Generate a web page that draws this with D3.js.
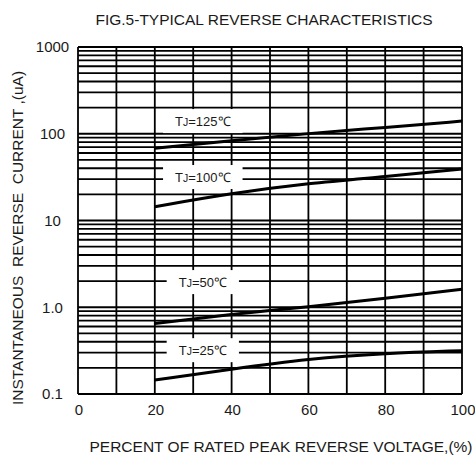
<html>

<head>
  <style>
    body {
      padding: 0px;
      margin: 0px;
      background-color: white;
    }

    svg text {
      font-family: "Liberation Sans", Arial, sans-serif;
      fill: #1a1a1a;
    }
  </style>
</head>

<body>
  <div id="chart"></div>
  <script src="https://cdnjs.cloudflare.com/ajax/libs/d3/7.8.5/d3.min.js"></script>
  <script>
    // values
    var voltagePct = [20, 40, 60, 80, 100];
    var ir125 = [68, 83, 101, 118, 140];
    var ir100 = [14.4, 20.6, 26.9, 32, 39.2];
    var ir50 = [0.65, 0.83, 1.01, 1.27, 1.61];
    var ir25 = [0.145, 0.194, 0.255, 0.295, 0.316];
    var curveNames = ["125", "100", "50", "25"];

    var xTicks = [0, 20, 40, 60, 80, 100];
    var yTicks = [0.1, 1, 10, 100, 1000];
    var yTickLabels = ["0.1", "1.0", "10", "100", "1000"];

    var svgWidth = 475,
      svgHeight = 455,
      plotLeft = 78,
      plotRight = 462,
      plotTop = 47,
      plotBottom = 394;

    var svg = d3.select('#chart').append('svg')
      .attr('width', svgWidth)
      .attr('height', svgHeight);

    var x = d3.scaleLinear().domain([0, 100]).range([plotLeft, plotRight]);
    var y = d3.scaleLog().domain([0.1, 1000]).range([plotBottom, plotTop]);

    // grid: every 10% across, every log minor step up
    var grid = svg.append('g')
      .attr('stroke', '#000')
      .attr('stroke-width', 1.8);

    var minor = [];
    [0.1, 1, 10, 100].forEach(function(dec) {
      for (var k = 1; k < 10; k++) minor.push(dec * k);
    });
    minor.push(1000);

    grid.selectAll('line.h')
      .data(minor)
      .enter()
      .append('line')
      .attr('x1', plotLeft)
      .attr('x2', plotRight)
      .attr('y1', function(d) { return y(d); })
      .attr('y2', function(d) { return y(d); });

    grid.selectAll('line.v')
      .data(d3.range(0, 101, 10))
      .enter()
      .append('line')
      .attr('y1', plotTop)
      .attr('y2', plotBottom)
      .attr('x1', function(d) { return x(d); })
      .attr('x2', function(d) { return x(d); });

    // curves
    var series = [ir125, ir100, ir50, ir25];
    var line = d3.line()
      .x(function(d, i) { return x(voltagePct[i]); })
      .y(function(d) { return y(d); })
      .curve(d3.curveBasis);

    svg.selectAll('path.curve')
      .data(series)
      .enter()
      .append('path')
      .attr('class', 'curve')
      .attr('d', line)
      .attr('fill', 'none')
      .attr('stroke', '#000')
      .attr('stroke-width', 3);

    // curve labels (white boxes cut the grid)
    var labelAt = [[32.5, 140], [32.5, 31.7], [32.5, 1.95], [32.5, 0.32]];
    curveNames.forEach(function(name, i) {
      var g = svg.append('g')
        .attr('transform', 'translate(' + x(labelAt[i][0]) + ',' + y(labelAt[i][1]) + ')');
      var box = g.append('rect').attr('fill', 'white');
      var t = g.append('text')
        .attr('text-anchor', 'middle')
        .attr('dy', '0.36em')
        .attr('font-size', 13);
      t.append('tspan').text('T');
      t.append('tspan').attr('font-size', 10.5).text('J');
      t.append('tspan').text('=' + name + '\u2103');
      var bb = t.node().getBBox();
      box.attr('x', bb.x - 12)
        .attr('y', -12)
        .attr('width', bb.width + 24)
        .attr('height', 24);
    });

    // axes text
    svg.selectAll('text.ytick')
      .data(yTicks)
      .enter()
      .append('text')
      .attr('x', 52.5)
      .attr('y', function(d) { return y(d); })
      .attr('dy', '0.36em')
      .attr('text-anchor', 'middle')
      .attr('font-size', 15)
      .text(function(d, i) { return yTickLabels[i]; });

    svg.selectAll('text.xtick')
      .data(xTicks)
      .enter()
      .append('text')
      .attr('x', function(d) { return x(d) + 1; })
      .attr('y', 410)
      .attr('dy', '0.36em')
      .attr('text-anchor', 'middle')
      .attr('font-size', 15)
      .text(function(d) { return d; });

    svg.append('text')
      .attr('x', 264)
      .attr('y', 19)
      .attr('dy', '0.36em')
      .attr('text-anchor', 'middle')
      .attr('font-size', 15.5)
      .text('FIG.5-TYPICAL REVERSE CHARACTERISTICS');

    svg.append('text')
      .attr('x', 281)
      .attr('y', 446)
      .attr('dy', '0.36em')
      .attr('text-anchor', 'middle')
      .attr('font-size', 15.5)
      .text('PERCENT OF RATED PEAK REVERSE VOLTAGE,(%)');

    svg.append('text')
      .attr('transform', 'translate(17,238) rotate(-90)')
      .attr('dy', '0.36em')
      .attr('text-anchor', 'middle')
      .attr('font-size', 15.5)
      .attr('xml:space', 'preserve')
      .text('INSTANTANEOUS  REVERSE  CURRENT ,(uA)');
  </script>
</body>

</html>
